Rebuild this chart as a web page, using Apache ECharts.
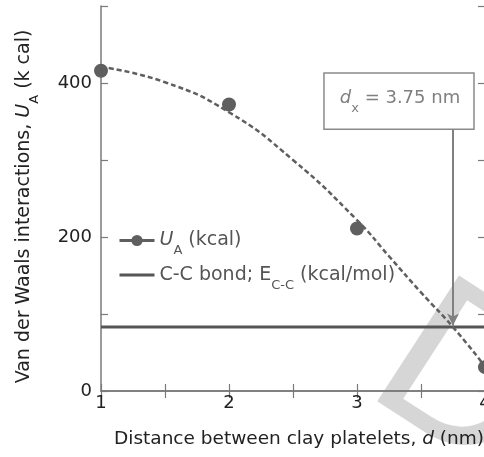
<!DOCTYPE html>
<html>
<head>
<meta charset="utf-8">
<script src="https://cdn.jsdelivr.net/npm/echarts@6/dist/echarts.min.js"></script>
<style>
  html, body { margin: 0; padding: 0; background: #fff; }
  #chart { width: 484px; height: 457px; }
</style>
</head>
<body>
<div id="chart"></div>
<script>
// measured U_A values (kcal) at each platelet distance d (nm)
const distances = [1, 2, 3, 4];
const uaValues = [416, 372, 211, 31];
// dashed trend curve
const fitDistances = [1, 1.5, 2, 2.5, 3, 3.25, 3.5, 3.75, 4];
const fitValues = [421, 401, 362, 300, 222, 175, 128, 83, 32];
// C-C bond energy line
const bondDistances = [1, 4];
const bondValues = [83, 83];
// crossing point d_x
const crossDistance = 3.75;
const crossText = '3.75 nm';
// tick labels shown
const xLabels = ['1', '2', '3', '4'];
const yLabels = ['0', '200', '400'];

const FONT = 'DejaVu Sans';
const AXIS_COLOR = '#7a7a7a';
const MARK_COLOR = '#5f5f5f';

const chart = echarts.init(document.getElementById('chart'));

function pairs(xs, ys) {
    return xs.map((x, i) => [x, ys[i]]);
}

// rich styles: normal text centred in a tall line, subscripts sit at its bottom
function richSet(size, color, subSize) {
    return {
        n: { fontSize: size, fontFamily: FONT, color: color, lineHeight: 34, verticalAlign: 'middle' },
        i: { fontSize: size, fontFamily: FONT, color: color, fontStyle: 'italic', lineHeight: 34, verticalAlign: 'middle' },
        s: { fontSize: subSize, fontFamily: FONT, color: color, lineHeight: 14, verticalAlign: 'bottom' }
    };
}

const option = {
    animation: false,
    backgroundColor: '#fff',
    grid: { left: 101, right: -1, top: 6, bottom: 66, containLabel: false, outerBoundsMode: 'none' },
    legend: {
        orient: 'vertical',
        left: 113,
        top: 226,
        itemWidth: 35,
        itemHeight: 14,
        itemGap: 8,
        textStyle: {
            color: '#555',
            fontFamily: FONT,
            fontSize: 19,
            rich: richSet(19, '#555', 13)
        },
        formatter: function (name) {
            if (name === 'UA') {
                return '{i|U}{s|A}{n| (kcal)}';
            }
            return '{n|C-C bond; E}{s|C-C}{n| (kcal/mol)}';
        },
        data: [
            { name: 'UA', lineStyle: { width: 3, color: MARK_COLOR, opacity: 1 }, itemStyle: { color: MARK_COLOR } },
            { name: 'bond', lineStyle: { width: 3, color: '#555' }, itemStyle: { opacity: 0 } }
        ]
    },
    xAxis: [
        {
            type: 'value',
            min: 1,
            max: 4,
            interval: 0.5,
            position: 'bottom',
            axisLine: { lineStyle: { color: AXIS_COLOR, width: 1.5 } },
            axisTick: { inside: true, length: 7, lineStyle: { color: AXIS_COLOR, width: 1.2 } },
            splitLine: { show: false },
            axisLabel: {
                color: '#222',
                fontFamily: FONT,
                fontSize: 18,
                margin: 3,
                formatter: v => xLabels.includes(String(v)) ? String(v) : ''
            },
            name: '{n|Distance between clay platelets, }{i|d}{n| (nm)}',
            nameLocation: 'middle',
            nameGap: 39,
            nameTextStyle: {
                padding: [0, 0, 0, 12],
                rich: {
                    n: { fontSize: 18.5, fontFamily: FONT, color: '#222' },
                    i: { fontSize: 18.5, fontFamily: FONT, color: '#222', fontStyle: 'italic' }
                }
            }
        },
        {
            type: 'value',
            min: 1,
            max: 4,
            interval: 0.5,
            position: 'top',
            axisLine: { lineStyle: { color: AXIS_COLOR, width: 1.5 } },
            axisTick: { inside: true, length: 7, lineStyle: { color: AXIS_COLOR, width: 1.2 } },
            axisLabel: { show: false },
            splitLine: { show: false }
        }
    ],
    yAxis: [
        {
            type: 'value',
            min: 0,
            max: 500,
            interval: 100,
            axisLine: { show: true, lineStyle: { color: AXIS_COLOR, width: 1.5 } },
            axisTick: { show: true, inside: true, length: 7, lineStyle: { color: AXIS_COLOR, width: 1.2 } },
            splitLine: { show: false },
            axisLabel: {
                color: '#222',
                fontFamily: FONT,
                fontSize: 18,
                margin: 9,
                formatter: v => yLabels.includes(String(v)) ? String(v) : ''
            },
            name: '{n|Van der Waals interactions, }{i|U}{s|A}{n| (k cal)}',
            nameLocation: 'middle',
            nameGap: 60,
            nameTextStyle: {
                padding: [0, 16, 0, 0],
                rich: richSet(19, '#222', 13)
            }
        },
        {
            type: 'value',
            min: 0,
            max: 500,
            interval: 100,
            position: 'right',
            axisLine: { show: true, lineStyle: { color: AXIS_COLOR, width: 1.5 } },
            axisTick: { show: true, inside: true, length: 7, lineStyle: { color: AXIS_COLOR, width: 1.2 } },
            axisLabel: { show: false },
            splitLine: { show: false }
        }
    ],
    series: [
        {
            name: 'fit',
            type: 'line',
            data: pairs(fitDistances, fitValues),
            smooth: true,
            showSymbol: false,
            symbol: 'none',
            lineStyle: { color: MARK_COLOR, width: 2.5, type: [5, 3] },
            z: 3
        },
        {
            name: 'UA',
            type: 'line',
            data: pairs(distances, uaValues),
            symbol: 'circle',
            symbolSize: 14,
            itemStyle: { color: MARK_COLOR },
            lineStyle: { width: 0, opacity: 0 },
            z: 4
        },
        {
            name: 'bond',
            type: 'line',
            data: pairs(bondDistances, bondValues),
            symbol: 'none',
            itemStyle: { color: '#555' },
            lineStyle: { color: '#555', width: 3 },
            z: 2,
            markLine: {
                silent: true,
                symbol: ['none', 'arrow'],
                symbolSize: [9, 12],
                label: { show: false },
                lineStyle: { color: '#808080', width: 2, type: 'solid' },
                data: [[{ coord: [crossDistance, 340] }, { coord: [crossDistance, bondValues[0] + 2] }]]
            }
        }
    ]
};

chart.setOption(option);

// annotation box for the crossing distance, placed in data coordinates
const boxTopLeft = chart.convertToPixel({ gridIndex: 0 }, [2.742, 413]);
const boxBottomRight = chart.convertToPixel({ gridIndex: 0 }, [3.914, 340]);
const boxRich = richSet(18, '#808080', 13);
chart.setOption({
    graphic: [
        {
            type: 'text',
            x: 395,
            y: 341,
            rotation: -0.576,
            z: -10,
            silent: true,
            style: {
                text: 'DRAFT',
                fill: '#d6d6d6',
                font: '218px "Liberation Sans"',
                align: 'left',
                verticalAlign: 'middle'
            }
        },
        {
            type: 'group',
            z: 20,
            children: [
                {
                    type: 'rect',
                    shape: {
                        x: boxTopLeft[0],
                        y: boxTopLeft[1],
                        width: boxBottomRight[0] - boxTopLeft[0],
                        height: boxBottomRight[1] - boxTopLeft[1]
                    },
                    style: { fill: '#fff', stroke: '#8a8a8a', lineWidth: 1.5 }
                },
                {
                    type: 'text',
                    x: (boxTopLeft[0] + boxBottomRight[0]) / 2 + 1,
                    y: (boxTopLeft[1] + boxBottomRight[1]) / 2 - 3,
                    style: {
                        text: '{i|d}{s|x}{n| = ' + crossText + '}',
                        align: 'center',
                        verticalAlign: 'middle',
                        rich: {
                            n: Object.assign({ fill: '#808080' }, boxRich.n),
                            i: Object.assign({ fill: '#808080' }, boxRich.i),
                            s: Object.assign({ fill: '#808080' }, boxRich.s)
                        }
                    }
                }
            ]
        }
    ]
});

window.addEventListener('resize', function () {
    chart.resize();
});
</script>
</body>
</html>
